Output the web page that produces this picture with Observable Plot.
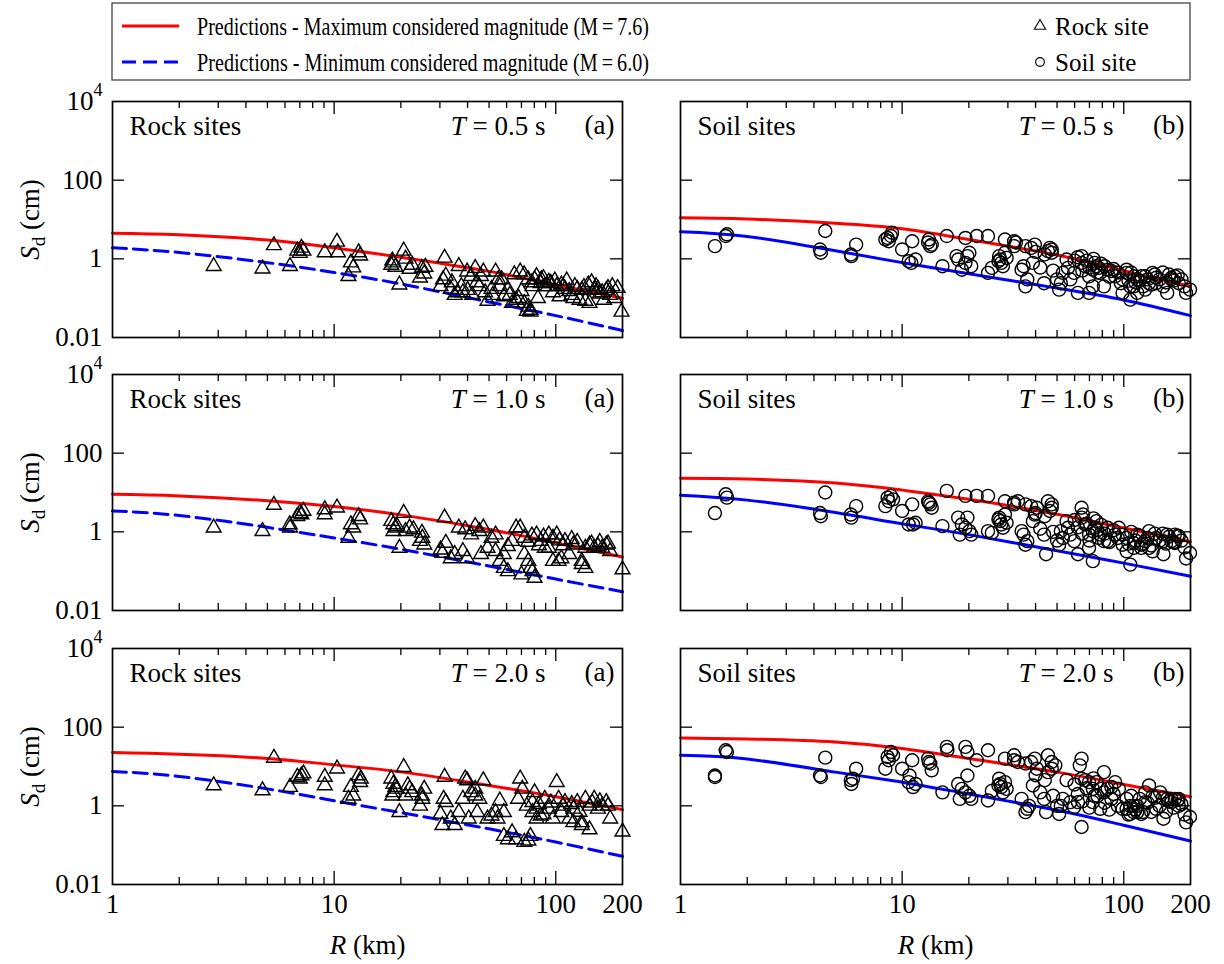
<!DOCTYPE html>
<html><head><meta charset="utf-8">
<script src="https://cdn.jsdelivr.net/npm/d3@7"></script>
<script src="https://cdn.jsdelivr.net/npm/@observablehq/plot@0.6"></script>
<style>
body{margin:0;background:#fff;}
#root{position:relative;width:1224px;height:964px;font-family:"Liberation Serif","Times New Roman",Times,"DejaVu Serif",serif;overflow:hidden;}
.panel{position:absolute;}
.panel text, #legend text{font-family:"Liberation Serif","Times New Roman",Times,"DejaVu Serif",serif !important;}
</style></head><body><div id="root"></div>
<script>
// ---------- data ----------
const gridR = [1, 2, 5, 10, 20, 50, 100, 200];
const rockMax05 = [4.5, 4.1, 3.0, 1.9, 1.1, 0.48, 0.22, 0.1];
const rockMin05 = [1.9, 1.45, 0.8, 0.45, 0.23, 0.08, 0.036, 0.015];
const rockMax10 = [9.0, 8.2, 6.2, 4.4, 2.7, 1.15, 0.52, 0.23];
const rockMin10 = [3.4, 2.6, 1.3, 0.7, 0.36, 0.135, 0.063, 0.03];
const rockMax20 = [22.6, 20.5, 16, 11, 7.3, 3.3, 1.7, 0.8];
const rockMin20 = [7.5, 5.6, 2.7, 1.35, 0.67, 0.26, 0.12, 0.052];
const soilMax05 = [11, 10.3, 8.0, 5.8, 3.1, 1.25, 0.5, 0.2];
const soilMin05 = [4.9, 3.7, 1.6, 0.8, 0.42, 0.18, 0.09, 0.036];
const soilMax10 = [23, 22, 17.5, 11.5, 6.7, 2.8, 1.25, 0.56];
const soilMin10 = [8.5, 6.4, 3.1, 1.6, 0.85, 0.33, 0.16, 0.074];
const soilMax20 = [53, 50, 42, 28.6, 16, 7.2, 3.5, 1.7];
const soilMin20 = [19.3, 15.5, 7.2, 4.0, 2.0, 0.77, 0.32, 0.128];

const rockPts05 = [[2.86,0.65],[4.75,0.56],[5.35,2.2],[6.32,0.65],[6.82,1.6],[7.0,1.4],[7.12,1.9],[7.27,1.6],[9.07,1.45],[10.3,2.7],[10.4,1.45],[11.6,0.36],[11.9,0.8],[12.2,0.6],[12.9,1.45],[13.1,1.2],
[18.1,0.7],[18.3,0.9],[18.5,0.8],[18.9,0.62],[19.7,0.22],[20.6,1.6],[21.0,1.0],[21.9,0.55],[22.5,0.7],[24.4,0.33],[24.9,0.58],[25.5,0.42],[25.8,0.62],
[30.2,0.2],[31.0,0.3],[31.5,1.06],[31.9,0.37],[33.6,0.17],[34,0.25],[35.0,0.12],[36,0.14],[36.5,0.65],[37.5,0.2],[38.1,0.14],[39.8,0.47],[40,0.16],[41.5,0.36],[42,0.12],[43.3,0.58],[44,0.25],[45.2,0.2],[46,0.36],[47.1,0.47],[48,0.14],[49.2,0.085],[51.3,0.17],[52,0.12],[53.5,0.47],[55,0.3],[55.9,0.2],[57,0.3],[58.3,0.11],[60.8,0.17],[62,0.12],[63.5,0.075],[65,0.4],[66.2,0.09],[68,0.1],[69.1,0.47],[70,0.15],[72.1,0.075],[74,0.047],[75.2,0.06],[76.8,0.05],[77,0.045],[78.5,0.2],[80.2,0.3],[81.9,0.36],[83,0.1],[85.5,0.24],[88,0.32],[89.2,0.2],[93,0.26],[95,0.24],[97.1,0.14],[101,0.2],[104,0.11],[106,0.22],[110,0.17],[112,0.28],[115,0.15],[118,0.12],[120,0.1],[125,0.17],[128,0.09],[131,0.16],[136,0.085],[140,0.22],[142,0.075],[145,0.25],[149,0.16],[155,0.17],[162,0.14],[165,0.09],[169,0.16],[176,0.12],[180,0.2],[184,0.1],[190,0.18],[198,0.045],
[72,0.4],[75,0.3],[78,0.25],[86,0.3],[92,0.2],[99,0.28],[108,0.2],[122,0.2],[134,0.19],[152,0.2],[158,0.13],[172,0.18]];

const rockPts10 = [[2.86,1.27],[4.75,1.04],[5.35,4.8],[6.32,1.27],[6.3,1.54],[6.82,2.5],[7.0,3.0],[7.12,2.76],[7.27,3.38],[9.07,3.7],[9.07,2.76],[10.3,4.1],[11.6,0.7],[11.9,1.54],[12.2,1.27],[12.9,2.5],[13.1,2.05],
[18.1,1.87],[18.5,1.54],[18.9,1.27],[18.5,1.04],[19.2,1.4],[19.7,0.39],[20.6,3.0],[21.0,1.04],[21.9,1.27],[22.8,1.15],[24.4,0.58],[24.9,0.94],[25.5,0.47],[25.0,0.7],
[30.2,0.35],[30.8,0.29],[31.5,2.3],[31.9,0.52],[33.6,0.21],[35.0,0.27],[36.5,1.27],[38.1,0.32],[39,1.15],[39.8,0.21],[41.5,0.85],[43.3,1.4],[45.2,1.04],[46,0.27],[47.1,1.27],[49.2,0.39],[51.3,0.7],[53.5,0.85],[53.5,0.32],[55.9,0.18],[58.3,0.12],[58.3,0.27],[60.8,0.099],[60.8,0.43],[63.5,0.58],[66.2,1.27],[69.1,1.27],[70,0.082],[72.1,0.27],[75.2,0.18],[76.8,0.12],[78.5,0.099],[80.2,0.067],[81.9,0.85],[85.5,0.58],[89.2,0.39],[93,0.85],[93,0.39],[97.1,0.7],[97.1,0.18],[101,0.85],[103,0.18],[106,0.21],[110,0.58],[115,0.27],[120,0.47],[131,0.18],[131,0.15],[136,0.39],[136,0.12],[142,0.47],[149,0.39],[155,0.43],[162,0.39],[169,0.47],[176,0.32],[200,0.11],
[72,0.7],[75,0.55],[78,0.8],[84,0.45],[88,0.75],[104,0.6],[108,0.45],[118,0.65],[125,0.55],[145,0.5],[158,0.55],[172,0.5]];

const rockPts20 = [[2.86,3.3],[4.75,2.45],[5.35,16.5],[6.32,3.0],[6.82,5.4],[7.12,5.9],[7.27,6.6],[7.0,4.9],[9.07,5.4],[9.07,3.3],[10.3,8.8],[11.6,1.5],[11.9,3.0],[12.2,1.8],[12.9,5.9],[13.1,4.0],[13.2,4.9],
[18.1,4.9],[18.5,3.6],[18.9,3.0],[18.5,2.2],[19.2,2.7],[18.3,1.8],[19.7,0.69],[20.6,9.6],[21.9,2.7],[21.0,1.8],[22.5,2.2],[21.5,3.3],[24.4,1.0],[24.9,1.8],[25.5,2.7],[25.0,1.5],
[30.2,0.62],[31.5,5.4],[31.9,1.24],[30.8,0.32],[31.2,1.5],[33.6,0.47],[35.0,0.32],[36.5,0.69],[38.1,1.5],[39,4.9],[39.8,4.4],[40.5,0.47],[41.5,2.2],[43.3,1.8],[45.2,1.5],[47.1,4.4],[44.2,0.69],[43.3,2.7],
[49.2,0.47],[51.3,0.56],[53.5,0.69],[55.9,1.35],[58.3,0.69],[54.6,0.47],[58.3,0.17],[60.8,0.14],[63.5,0.21],[66.2,0.14],[69.1,4.9],[70.6,2.7],[67.6,1.5],[72.1,0.12],[75.2,0.13],[76.8,0.17],[78.5,1.24],[80.2,2.2],[81.9,0.47],[85.5,0.56],[78.5,0.69],[81.9,0.84],
[89.2,1.5],[93,0.84],[97.1,0.47],[101,4.0],[103,1.5],[106,0.69],[110,1.24],[115,0.47],[120,0.84],[125,1.24],[131,0.32],[136,1.5],[142,1.0],[149,1.5],[155,0.84],[162,1.0],[169,1.24],[176,0.47],[200,0.22],[142,0.25],[131,0.38],[120,0.38],
[74,1.0],[84,1.1],[88,0.6],[95,1.2],[108,1.0],[118,1.1],[128,0.7],[146,1.2],[158,1.3],[172,1.0]];

const soilPts05 = [[1.43,2.1],[1.6,3.8],[1.62,4.2],[4.26,1.73],[4.3,1.43],[4.5,5.1],[5.87,1.29],[5.9,1.17],[6.2,2.3],[8.4,3.1],[8.6,3.4],[8.9,3.8],[9.0,4.6],[8.7,2.8],[10,1.73],[10.7,0.87],[11.0,0.79],[11.5,0.96],[11.1,2.8],[13.1,2.6],[13.4,2.1],[13.6,2.3],[13.2,3.1],[15.2,0.65],[15.9,3.8],[17.9,0.96],[18.6,0.53],[19.3,0.79],[19.7,1.17],[20.1,1.43],[20.5,0.65],[17.6,1.17],[19.3,3.4],[21.7,3.8],[24.4,3.8],[24.4,0.44],[25.4,0.59],[27.4,1.17],[27.7,0.96],[28.0,0.79],[28.5,0.65],[29.1,1.43],[29.6,1.06],[27.2,0.87],[29.1,3.1],[32,2.8],[32,2.1],[32.6,2.6],[34.6,0.53],[36,0.2],[36.7,0.3],[35.3,0.65],[36,2.1],[38.2,1.9],[38.9,0.79],[39.7,2.3],[43.7,0.24],[45.5,1.57],[47.3,1.73],[47.3,1.43],[46.4,1.9],[51.1,0.165],[53.1,0.44],[55.2,0.96],[57.4,0.3],[59.7,0.44],[62.1,0.136],[52,0.24],[56,0.59],[64.5,1.17],[64.5,0.79],[67,0.65],[69.7,0.136],[72.5,0.2],[72.5,0.53],[75.3,0.65],[78.3,0.44],[81.4,0.2],[84.6,0.53],[74,0.79],[77,0.59],[69.7,0.36],[91.4,0.36],[97,0.24],[98.8,0.136],[103,0.53],[107,0.092],[111,0.2],[115,0.3],[120,0.36],[125,0.165],[130,0.24],[135,0.44],[140,0.24],[151,0.2],[157,0.136],[164,0.3],[170,0.36],[177,0.24],[191,0.136],[199,0.165],[103,0.44],[111,0.36],[125,0.36],[140,0.33],[164,0.33],[87.9,0.49],[98.8,0.3],[107,0.2],[115,0.136],
[60,0.9],[62,1.1],[65,0.5],[68,0.9],[70,0.6],[73,1.0],[76,0.45],[79,0.75],[82,0.65],[86,0.35],[90,0.55],[94,0.45],[105,0.28],[108,0.45],[113,0.25],[118,0.28],[122,0.2],[128,0.3],[133,0.22],[138,0.4],[145,0.3],[150,0.45],[155,0.25],[160,0.4],[168,0.28],[175,0.38],[182,0.3],[188,0.2],[40,1.5],[42,0.6],[44,1.3],[48,0.5],[50,0.3]];

const soilPts10 = [[1.43,3.0],[1.6,9.0],[1.62,7.4],[4.26,3.0],[4.3,2.5],[4.5,10],[5.87,2.75],[5.9,2.3],[6.2,4.5],[8.4,4.5],[8.6,7.4],[8.9,8.2],[9.1,6.7],[8.7,6.0],[10,3.4],[10.7,1.54],[11.2,1.54],[11.1,5.0],[11.5,1.7],[13.1,6.0],[13.4,5.0],[13.6,4.1],[13.2,5.5],[15.2,1.4],[15.9,11],[17.9,2.3],[18.2,0.85],[19.3,1.27],[19.7,2.3],[20.1,1.04],[20.5,0.85],[18.6,1.54],[19.3,8.2],[21.7,8.2],[24.4,8.2],[24.4,1.04],[25.4,0.94],[27.4,2.3],[27.7,1.87],[28,1.54],[28.5,1.27],[29.1,2.75],[29.6,1.7],[27.2,2.05],[29.1,6.0],[32,5.5],[32,5.0],[33.3,6.0],[34.6,1.04],[36,0.47],[36.7,0.58],[35.3,0.85],[36,5.0],[38.2,4.5],[38.9,1.87],[40.5,4.1],[39.7,2.75],[43.7,0.85],[44.6,0.27],[45.5,6.0],[47.3,4.1],[47.3,5.0],[46.4,3.4],[51.1,0.47],[53.1,0.7],[55.2,1.87],[57.4,0.85],[59.7,0.58],[62.1,0.27],[52,1.04],[56,1.27],[64.5,4.1],[64.5,2.3],[67,1.54],[69.7,0.39],[72.5,0.18],[72.5,1.04],[75.3,1.87],[78.3,0.85],[81.4,0.58],[84.6,1.27],[74,1.27],[77,0.7],[69.7,0.85],[65.5,2.75],[91.4,0.85],[95,1.27],[98.8,0.47],[103,0.32],[107,0.147],[111,0.39],[115,0.85],[120,0.47],[125,0.58],[130,1.04],[135,0.32],[140,0.7],[151,0.27],[157,0.85],[164,0.58],[170,0.85],[177,0.77],[191,0.21],[199,0.29],[103,0.7],[111,0.52],[120,0.39],[130,0.39],[98.8,0.85],[84.6,0.58],[151,0.58],[170,0.52],
[60,2.0],[62,1.3],[65,0.9],[68,1.6],[70,0.6],[73,2.2],[76,1.1],[79,1.5],[82,0.9],[86,0.55],[90,1.1],[94,0.7],[105,0.5],[108,1.0],[113,0.6],[118,0.8],[122,0.5],[128,0.7],[133,0.45],[138,0.9],[145,0.6],[150,0.9],[155,0.5],[160,0.75],[168,0.55],[175,0.8],[182,0.6],[188,0.4],[40,3.0],[42,1.2],[44,2.5],[48,1.0],[50,0.6]];

const soilPts20 = [[1.43,5.9],[1.43,5.4],[1.6,25.9],[1.62,23.4],[4.26,5.9],[4.3,5.4],[4.5,16.8],[5.87,4.5],[5.9,3.6],[6.2,8.8],[6.0,4.9],[8.6,17.5],[8.9,23.4],[8.4,8.8],[9.1,19.3],[8.7,14.4],[10,8.8],[10.7,4.0],[11.2,3.0],[11.1,14.4],[11.5,3.6],[10.8,5.9],[13.1,15.9],[13.4,11.9],[13.6,8.0],[13.2,13],[15.2,2.2],[15.9,31.5],[16,25.9],[17.9,3.6],[18.2,1.5],[19.3,2.2],[19.7,5.9],[20.1,1.8],[20.5,1.5],[18.6,2.7],[19.3,31.5],[21.7,14.4],[24.4,25.9],[19.7,23.4],[24.4,1.37],[25.4,2.4],[27.4,4.9],[27.7,3.6],[28,3.0],[28.5,2.2],[29.1,4.0],[29.6,2.7],[27.2,3.3],[29.1,15.9],[32,19.3],[32,14.4],[33.3,13],[34.6,1.5],[36,0.69],[36.7,0.84],[37.4,1.0],[36,11.9],[38.2,13],[38.9,3.3],[40.5,8.8],[39.7,15.9],[43.7,1.5],[44.6,0.69],[45.5,19.3],[47.3,13],[47.3,8.8],[45.5,7.2],[49.1,10.7],[51.1,0.62],[53.1,1.5],[55.2,4.5],[57.4,1.24],[59.7,0.92],[62.1,1.24],[52,1.0],[64.5,15.9],[64.5,4.9],[67,4.5],[64.5,0.29],[69.7,4.0],[72.5,1.24],[72.5,2.7],[75.3,4.0],[78.3,0.84],[81.4,7.2],[84.6,2.7],[87.9,3.0],[63.3,10.7],[74,1.8],[91.4,4.0],[95,2.7],[98.8,0.84],[103,0.84],[107,0.62],[111,1.0],[115,0.69],[120,0.62],[125,2.2],[130,3.3],[135,1.8],[140,0.84],[146,2.2],[151,0.47],[157,1.5],[164,1.24],[170,1.5],[177,1.0],[191,0.38],[199,0.52],[103,1.5],[111,0.69],[115,1.0],[81.4,2.2],[87.9,1.5],[164,1.5],[177,1.5],[125,1.24],[107,1.0],
[60,3.5],[62,2.0],[65,1.3],[68,2.8],[70,0.9],[73,5.0],[76,1.8],[79,2.7],[82,1.2],[86,0.8],[90,2.0],[94,1.0],[105,0.6],[108,1.8],[113,0.8],[118,1.5],[122,0.7],[128,1.2],[133,0.7],[138,1.6],[145,1.0],[150,1.6],[155,0.7],[160,1.3],[168,0.9],[175,1.4],[182,1.1],[188,0.6],[40,6.0],[42,2.2],[44,4.5],[48,1.8],[50,1.0]];

const xTickLabels = [1, 10, 100, 200];
const xMajor = [10, 100];
const xMinor = [2, 3, 4, 5, 6, 7, 8, 9, 20, 30, 40, 50, 60, 70, 80, 90];
const yTickLabels = [0.01, 1, 100, 10000];
const yInner = [1, 100];
const periods = ["0.5", "1.0", "2.0"];

// ---------- layout ----------
const FW = 510, FH = 236;
const rowTops = [101, 374, 648];
const FONT = '"Liberation Serif","Times New Roman",Times,"DejaVu Serif",serif';
const FS = 27;

function makePanel(o) {
  const mL = o.left ? 112 : 20, mR = o.left ? 20 : 34, mT = 20, mB = o.bottom ? 80 : 20;
  const pts = o.pts.map(([R, v]) => ({R, v}));
  const lineOf = vals => gridR.map((R, i) => ({R, v: vals[i]}));
  const blueOpts = {x: "R", y: "v", stroke: "#0000ff", strokeWidth: 3, curve: "natural"};
  if (o.dashed) blueOpts.strokeDasharray = "14,7";
  const marks = [
    Plot.line(lineOf(o.maxV), {x: "R", y: "v", stroke: "#ff0000", strokeWidth: 3, curve: "natural"}),
    Plot.line(lineOf(o.minV), blueOpts),
    Plot.dot(pts, {x: "R", y: "v", symbol: o.symbol, r: o.r, stroke: "#000", strokeWidth: 1.4, fill: "none"}),
    Plot.tickX(xMajor, {x: d => d, insetTop: FH - 13, stroke: "#000", strokeWidth: 1.3}),
    Plot.tickX(xMajor, {x: d => d, insetBottom: FH - 13, stroke: "#000", strokeWidth: 1.3}),
    Plot.tickX(xMinor, {x: d => d, insetTop: FH - 7, stroke: "#000", strokeWidth: 1.3}),
    Plot.tickX(xMinor, {x: d => d, insetBottom: FH - 7, stroke: "#000", strokeWidth: 1.3}),
    Plot.tickY(yInner, {y: d => d, insetRight: FW - 12, stroke: "#000", strokeWidth: 1.3}),
    Plot.tickY(yInner, {y: d => d, insetLeft: FW - 12, stroke: "#000", strokeWidth: 1.3}),
    Plot.frame({stroke: "#000", strokeWidth: 1.7}),
    Plot.text([o.site], {frameAnchor: "top-left", dx: 17, dy: 25, textAnchor: "start", lineAnchor: "middle", fontSize: FS}),
    Plot.text([`T = ${o.T} s`], {frameAnchor: "top-right", dx: -77, dy: 25, textAnchor: "end", lineAnchor: "middle", fontSize: FS}),
    Plot.text([o.tag], {frameAnchor: "top-right", dx: o.left ? -8 : -6, dy: 24, textAnchor: "end", lineAnchor: "middle", fontSize: FS})
  ];
  if (o.left) {
    marks.push(Plot.axisY(yTickLabels, {anchor: "left", tickSize: 0, tickPadding: 10, fontSize: FS,
      tickFormat: d => d === 10000 ? "10^4" : String(d), label: null}));
    marks.push(Plot.text(["Sd (cm)"], {frameAnchor: "left", dx: -82, rotate: -90, textAnchor: "middle", lineAnchor: "middle", fontSize: FS}));
  }
  if (o.bottom) {
    marks.push(Plot.axisX(xTickLabels, {anchor: "bottom", tickSize: 0, tickPadding: 9, fontSize: FS,
      tickFormat: d => String(d), label: null}));
    marks.push(Plot.text(["R (km)"], {frameAnchor: "bottom", dy: 61, textAnchor: "middle", lineAnchor: "middle", fontSize: FS}));
  }
  const svg = Plot.plot({
    width: mL + FW + mR, height: mT + FH + mB,
    marginLeft: mL, marginRight: mR, marginTop: mT, marginBottom: mB,
    x: {type: "log", domain: [1, 200], axis: null},
    y: {type: "log", domain: [0.01, 10000], axis: null},
    style: {fontFamily: FONT, fontSize: FS + "px", background: "transparent", color: "#000", overflow: "visible"},
    marks
  });
  svg.querySelectorAll("text").forEach(t => {
    const s = t.textContent;
    if (s === "10^4") t.innerHTML = '10<tspan dy="-14" font-size="18">4</tspan>';
    else if (s.startsWith("T = ")) t.innerHTML = `<tspan font-style="italic">T</tspan> = ${s.slice(4)}`;
    else if (s === "Sd (cm)") t.innerHTML = '<tspan font-style="italic">S</tspan><tspan font-size="19" dy="6">d</tspan><tspan dy="-6"> (cm)</tspan>';
    else if (s === "R (km)") t.innerHTML = '<tspan font-style="italic">R</tspan> (km)';
  });
  svg.classList.add("panel");
  svg.style.left = (o.left ? 0 : 680 - mL) + "px";
  svg.style.top = (o.top - mT) + "px";
  return svg;
}

const root = document.getElementById("root");
const rockMax = [rockMax05, rockMax10, rockMax20], rockMin = [rockMin05, rockMin10, rockMin20];
const soilMax = [soilMax05, soilMax10, soilMax20], soilMin = [soilMin05, soilMin10, soilMin20];
const rockPts = [rockPts05, rockPts10, rockPts20], soilPts = [soilPts05, soilPts10, soilPts20];
for (let i = 0; i < 3; ++i) {
  root.appendChild(makePanel({left: true, bottom: i === 2, top: rowTops[i], pts: rockPts[i], symbol: "triangle", r: 5.5,
    maxV: rockMax[i], minV: rockMin[i], dashed: true, site: "Rock sites", T: periods[i], tag: "(a)"}));
  root.appendChild(makePanel({left: false, bottom: i === 2, top: rowTops[i], pts: soilPts[i], symbol: "circle", r: 6.5,
    maxV: soilMax[i], minV: soilMin[i], dashed: false, site: "Soil sites", T: periods[i], tag: "(b)"}));
}

// ---------- legend ----------
const legendItems = [
  {label: "Predictions - Maximum considered magnitude (M\u2009=\u20097.6)", color: "#ff0000", dash: null},
  {label: "Predictions - Minimum considered magnitude (M\u2009=\u20096.0)", color: "#0000ff", dash: "14,7"}
];
const legendSymbols = [{label: "Rock site", symbol: d3.symbolTriangle}, {label: "Soil site", symbol: d3.symbolCircle}];
const ns = "http://www.w3.org/2000/svg";
const lg = document.createElementNS(ns, "svg");
lg.id = "legend";
lg.setAttribute("width", 1080); lg.setAttribute("height", 80);
lg.style.position = "absolute"; lg.style.left = "111px"; lg.style.top = "2px";
let html = `<rect x="1" y="1" width="1078" height="77" fill="none" stroke="#333" stroke-width="1.2"/>`;
legendItems.forEach((it, i) => {
  const y = 24 + i * 36;
  html += `<line x1="11" x2="68" y1="${y}" y2="${y}" stroke="${it.color}" stroke-width="3" ${it.dash ? `stroke-dasharray="${it.dash}"` : ""}/>`;
  html += `<text x="86" y="${y}" dy="0.35em" font-size="26" textLength="452" lengthAdjust="spacingAndGlyphs">${it.label}</text>`;
});
legendSymbols.forEach((it, i) => {
  const y = 24 + i * 36;
  const path = d3.symbol(it.symbol, it.symbol === d3.symbolCircle ? 60 : 55)();
  html += `<path d="${path}" transform="translate(929,${y})" fill="none" stroke="#000" stroke-width="1.1"/>`;
  html += `<text x="944" y="${y}" dy="0.35em" font-size="25">${it.label}</text>`;
});
lg.innerHTML = html;
root.appendChild(lg);
</script></body></html>
